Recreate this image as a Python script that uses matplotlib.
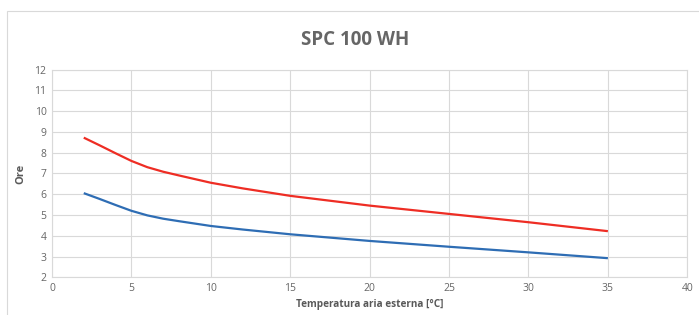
import matplotlib.pyplot as plt
from matplotlib.patches import Rectangle

# temperatura aria esterna [°C]
temp = [2, 3, 4, 5, 6, 7, 8, 10, 12, 15, 20, 25, 30, 35]
# ore - curva rossa / blu
ore_rosso = [8.72, 8.35, 7.97, 7.6, 7.3, 7.08, 6.9, 6.55, 6.28, 5.92, 5.45, 5.05, 4.65, 4.22]
ore_blu = [6.05, 5.77, 5.48, 5.2, 4.98, 4.82, 4.7, 4.47, 4.3, 4.07, 3.75, 3.47, 3.2, 2.92]

titolo = "SPC 100 WH"
xlabel = "Temperatura aria esterna [°C]"
ylabel = "Ore"

grigio = "#595959"
plt.rcParams['font.family'] = ['Open Sans', 'DejaVu Sans']

fig = plt.figure(figsize=(6.99, 3.15), dpi=100)
W, H = 699, 315
# bordo esterno del grafico
fig.patches.append(Rectangle((7 / W, -0.1), 1.0, (H - 11) / H + 0.1,
                             transform=fig.transFigure, fill=False,
                             edgecolor="#d9d9d9", linewidth=0.8))

ax = fig.add_axes([52 / W, 1 - 277.3 / H, (687.3 - 52) / W, (277.3 - 69.5) / H])
ax.plot(temp, ore_rosso, color="#ee2d24", linewidth=1.6, solid_capstyle="butt")
ax.plot(temp, ore_blu, color="#2e6db4", linewidth=1.6, solid_capstyle="butt")

ax.set_xlim(0, 40)
ax.set_ylim(2, 12)
ax.set_xticks(range(0, 41, 5))
ax.set_yticks(range(2, 13))
ax.grid(True, color="#d9d9d9", linewidth=0.8)
ax.set_axisbelow(True)
for s in ax.spines.values():
    s.set_color("#d9d9d9")
    s.set_linewidth(0.8)
ax.tick_params(length=0, labelsize=7.5, colors="#666666", pad=4)

ax.set_xlabel(xlabel, fontsize=7.2, fontweight="bold", color=grigio, labelpad=4)
ax.set_ylabel(ylabel, fontsize=8, fontweight="bold", color=grigio, labelpad=6)
fig.text(355 / W, 1 - 40 / H, titolo, ha="center", va="center",
         fontsize=13.5, fontweight="bold", color="#666666")

fig.savefig("out.png", dpi=100)
